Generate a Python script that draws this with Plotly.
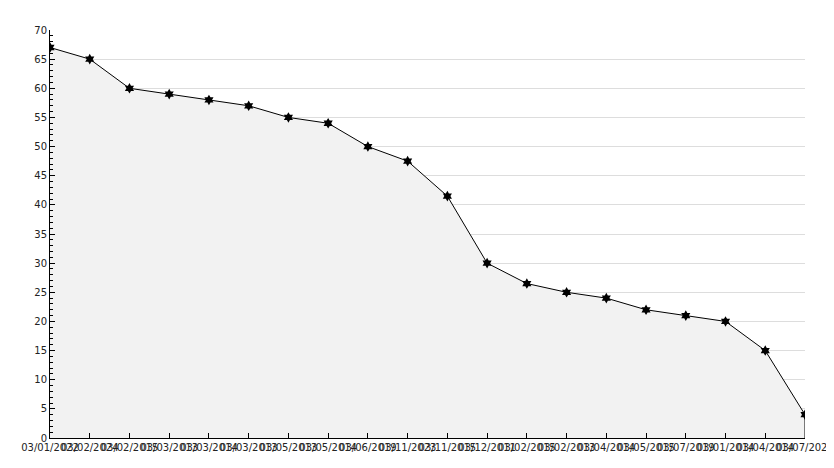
import plotly.graph_objects as go

dates = ["03/01/2022", "03/02/2024", "03/02/2015", "03/03/2013", "03/03/2014",
         "03/03/2013", "03/05/2013", "03/05/2014", "03/06/2019", "03/11/2023",
         "03/11/2015", "03/12/2011", "03/02/2015", "03/02/2013", "03/04/2014",
         "03/05/2015", "03/07/2019", "03/01/2014", "03/04/2014", "03/07/2025"]
values = [67, 65, 60, 59, 58, 57, 55, 54, 50, 47.5,
          41.5, 30, 26.5, 25, 24, 22, 21, 20, 15, 4]

idx = list(range(len(dates)))

fig = go.Figure()
fig.add_trace(go.Scatter(
    x=idx, y=values, mode="lines+markers", fill="tozeroy",
    fillcolor="#f2f2f2",
    line=dict(color="black", width=1),
    marker=dict(symbol="hexagram", size=8, color="black"),
    hoverinfo="skip", showlegend=False,
))
# closing edge of the filled area at the last point
fig.add_trace(go.Scatter(
    x=[idx[-1], idx[-1]], y=[0, values[-1]], mode="lines",
    line=dict(color="black", width=1), hoverinfo="skip", showlegend=False,
))

fig.update_layout(
    width=834, height=468,
    margin=dict(l=42, r=37, t=22, b=38),
    paper_bgcolor="white", plot_bgcolor="white",
    font=dict(family="DejaVu Sans", size=10, color="#222"),
)
fig.update_xaxes(
    range=[0, len(dates) - 1], tickmode="array", tickvals=idx, ticktext=dates,
    tickangle=0, showgrid=False, zeroline=False, automargin=False,
    showline=True, linecolor="black", linewidth=1,
    ticks="inside", ticklen=5, tickcolor="black",
)
fig.update_yaxes(
    range=[0, 70], dtick=5, showgrid=True, gridcolor="#dddddd", gridwidth=1,
    zeroline=False, showline=True, linecolor="black", linewidth=1, automargin=False,
    ticks="inside", ticklen=5, tickcolor="black",
    minor=dict(dtick=1, ticks="inside", ticklen=3, tickcolor="black", showgrid=False),
)

fig.write_html("out.html")
